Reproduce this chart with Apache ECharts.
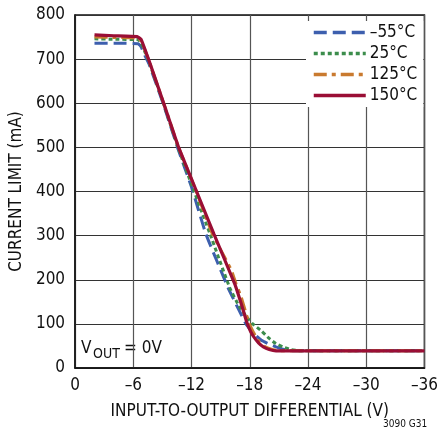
<!DOCTYPE html>
<html><head><meta charset="utf-8">
<script src="https://cdn.jsdelivr.net/npm/echarts@6/dist/echarts.min.js"></script>
<style>html,body{margin:0;padding:0;background:#fff}#c{width:441px;height:436px}</style>
</head><body><div id="c"></div>
<script>
const seriesNames = ['–55°C', '25°C', '125°C', '150°C'];
const xTicks = [0, -6, -12, -18, -24, -30, -36];
const yTicks = [0, 100, 200, 300, 400, 500, 600, 700, 800];
const m55 = [[-2,736],[-4,736],[-6.5,735],[-6.8,728],[-7.2,708],[-7.6,690],[-9.1,598],[-10.6,497],[-12.0,410],[-13.47,304],[-15.78,181],[-16.8,135],[-17.6,100],[-18.4,78],[-19.2,63],[-20.0,54],[-20.7,48],[-21.5,42],[-22.5,39],[-36,39]];
const p25 = [[-2,746],[-4,745],[-6.5,744],[-6.8,737],[-7.2,716],[-7.6,695],[-9.1,600],[-10.6,500],[-12.1,410],[-13.9,304],[-15.95,181],[-16.9,140],[-17.6,118],[-18.3,100],[-19.2,84],[-20.0,67],[-20.7,55],[-21.4,48],[-22.2,42],[-23.2,39],[-36,39]];
const p125 = [[-2,750],[-4,749],[-6.5,748],[-6.8,741],[-7.2,720],[-7.6,697],[-9.13,600],[-10.67,500],[-12.35,408],[-14.15,304],[-16.1,222],[-16.6,190],[-17.1,162],[-17.9,103],[-18.4,80],[-19.0,58],[-19.6,48],[-20.3,42],[-21.0,39],[-36,39]];
const p150 = [[-2,755],[-4,753],[-6.4,751],[-6.8,745],[-7.2,722],[-7.6,698],[-9.13,600],[-10.67,500],[-12.45,404],[-14.3,304],[-16.46,190],[-17.2,140],[-17.7,103],[-18.1,82],[-18.4,71],[-18.9,57],[-19.4,48],[-20.0,42],[-20.7,39],[-36,39]];

const FONT = '"Liberation Sans Narrow","DejaVu Sans Condensed",sans-serif';
const chart = echarts.init(document.getElementById('c'), null, {renderer:'canvas'});
const mk = (name, data, color, type, width, z) => ({
  name, type:'line', data, showSymbol:false, symbol:'none', smooth:0.1, z,
  lineStyle:{color, width, type}, itemStyle:{color}
});
chart.setOption({
  animation:false,
  grid:{left:74, right:15, top:15, bottom:68, show:true, borderColor:'#111', borderWidth:1.5},
  xAxis:{type:'value', min:-36, max:0, interval:6, inverse:true,
    axisLine:{show:true, lineStyle:{color:'#111', width:1.5}},
    axisTick:{show:false},
    splitLine:{show:true, lineStyle:{color:'#555', width:1.2}},
    axisLabel:{fontFamily:FONT, fontSize:17, color:'#111', margin:9,
      formatter:v => xTicks.includes(v) ? (v===0 ? '0' : '–'+Math.abs(v)) : ''},
    name:'INPUT-TO-OUTPUT DIFFERENTIAL (V)', nameLocation:'middle', nameGap:35,
    nameTextStyle:{fontFamily:FONT, fontSize:17, color:'#111'}},
  yAxis:{type:'value', min:0, max:800, interval:100,
    axisLine:{show:true, lineStyle:{color:'#111', width:1.5}},
    axisTick:{show:false},
    splitLine:{show:true, lineStyle:{color:'#333', width:1.2}},
    axisLabel:{fontFamily:FONT, fontSize:17, color:'#111', margin:10,
      formatter:v => yTicks.includes(v) ? String(v) : ''},
    name:'CURRENT LIMIT (mA)', nameLocation:'middle', nameGap:46,
    nameTextStyle:{fontFamily:FONT, fontSize:17, color:'#111'}},
  legend:{orient:'vertical', left:306, top:21, itemWidth:52, itemHeight:10, itemGap:4,
    backgroundColor:'#fff', padding:[3,6,3,6],
    itemStyle:{opacity:0}, lineStyle:{width:3.5},
    textStyle:{fontFamily:FONT, fontSize:17, color:'#111', padding:[0,0,0,-1]},
    data:seriesNames},
  series:[
    mk(seriesNames[0], m55, '#3d5fae', [13,6], 3, 3),
    mk(seriesNames[1], p25, '#3c8d4c', [4,3], 3, 4),
    mk(seriesNames[2], p125, '#c97a2f', [13,5,4,5], 3, 5),
    mk(seriesNames[3], p150, '#9a0e35', 'solid', 3.2, 6)
  ],
  graphic:[
    {type:'text', left:81, top:340, style:{text:'V', font:'17px '+FONT, fill:'#111'}},
    {type:'text', left:93, top:347, style:{text:'OUT', font:'14px '+FONT, fill:'#111'}},
    {type:'text', left:124, top:340, style:{text:'= 0V', font:'17px '+FONT, fill:'#111'}},
    {type:'text', left:383, top:419, style:{text:'3090 G31', font:'10px '+FONT, fill:'#111'}}
  ]
});
</script></body></html>
